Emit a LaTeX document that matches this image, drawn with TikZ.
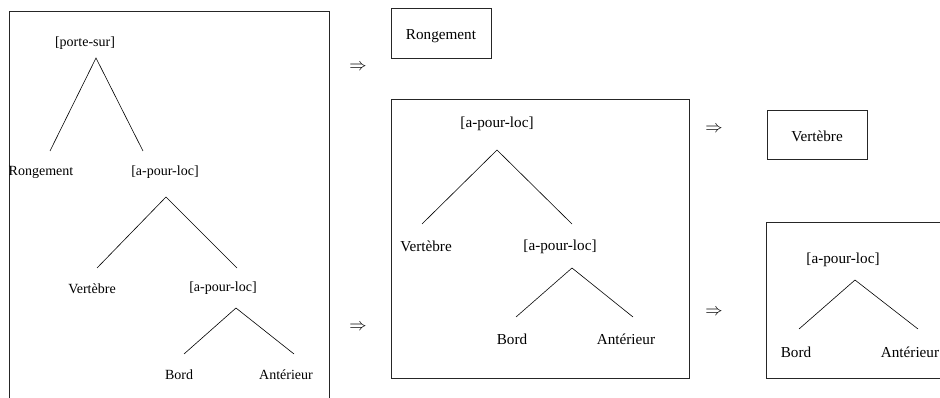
\documentclass[tikz,border=0pt]{standalone}
\usepackage{fontspec}
\setmainfont{Liberation Serif}
\begin{document}
\begin{tikzpicture}[x=1pt,y=-1pt,
  lbl/.style={inner sep=0pt,yshift=-1.5pt,font=\fontsize{14}{16}\selectfont},
  lblb/.style={inner sep=0pt,yshift=-1.5pt,font=\fontsize{15.2}{17}\selectfont},
  arr/.style={inner sep=0pt,font=\fontsize{19}{21}\selectfont},
  edge/.style={line width=0.6pt},
  frame/.style={line width=0.8pt,draw=black!85}]
\useasboundingbox[fill=white] (0,0) rectangle (940,398);
% ---- left frame (open at bottom)
\draw[frame] (9,410) -- (9,11) -- (329,11) -- (329,410);
\node[lbl] (ps) at (85,42) {[porte-sur]};
\node[lbl] (r1) at (41,171) {Rongement};
\node[lbl] (ap1) at (165,171) {[a-pour-loc]};
\node[lbl] (v1) at (92,287) {Vertèbre};
\node[lbl] (ap2) at (223,287) {[a-pour-loc]};
\node[lbl] (b1) at (179,373) {Bord};
\node[lbl] (an1) at (286,373) {Antérieur};
\coordinate (ps-t) at (96,58);
\coordinate (r1-t) at (50,151);
\coordinate (ap1-t) at (143,151);
\coordinate (ap1-b) at (166,197);
\coordinate (v1-t) at (97,268);
\coordinate (ap2-t) at (237,268);
\coordinate (ap2-b) at (236,308);
\coordinate (b1-t) at (184,354);
\coordinate (an1-t) at (294,354);
\draw[edge] (r1-t) -- (ps-t) -- (ap1-t);
\draw[edge] (v1-t) -- (ap1-b) -- (ap2-t);
\draw[edge] (b1-t) -- (ap2-b) -- (an1-t);
% ---- arrows
\node[arr] (a1) at (358,67) {$\Rightarrow$};
\node[arr] (a2) at (358,327) {$\Rightarrow$};
\node[arr] (a3) at (714,129) {$\Rightarrow$};
\node[arr] (a4) at (714,312) {$\Rightarrow$};
% ---- Rongement box
\draw[frame] (391,8) rectangle (491,58);
\node[lblb] (r2) at (441,35) {Rongement};
% ---- middle frame
\draw[frame] (391,99) rectangle (689,378);
\node[lblb] (ap3) at (497,122) {[a-pour-loc]};
\node[lblb] (v2) at (426,245) {Vertèbre};
\node[lblb] (ap4) at (560,245) {[a-pour-loc]};
\node[lblb] (b2) at (512,338) {Bord};
\node[lblb] (an2) at (626,338) {Antérieur};
\coordinate (ap3-b) at (497,150);
\coordinate (v2-t) at (422,224);
\coordinate (ap4-t) at (572,224);
\coordinate (ap4-b) at (572,268);
\coordinate (b2-t) at (516,317);
\coordinate (an2-t) at (633,317);
\draw[edge] (v2-t) -- (ap3-b) -- (ap4-t);
\draw[edge] (b2-t) -- (ap4-b) -- (an2-t);
% ---- Vertebre box
\draw[frame] (767,110) rectangle (867,159);
\node[lblb] (v3) at (817,135) {Vertèbre};
% ---- right frame (open at right)
\draw[frame] (950,222) -- (766,222) -- (766,378) -- (950,378);
\node[lblb] (ap5) at (843,258) {[a-pour-loc]};
\node[lblb] (b3) at (796,351) {Bord};
\node[lblb] (an3) at (910,351) {Antérieur};
\coordinate (ap5-b) at (855,280);
\coordinate (b3-t) at (799,329);
\coordinate (an3-t) at (918,329);
\draw[edge] (b3-t) -- (ap5-b) -- (an3-t);
\end{tikzpicture}
\end{document}
